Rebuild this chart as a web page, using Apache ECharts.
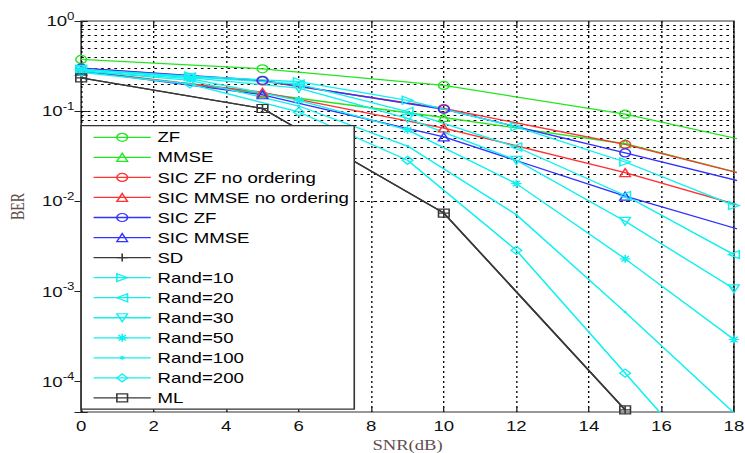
<!DOCTYPE html>
<html><head><meta charset="utf-8">
<script src="https://cdn.jsdelivr.net/npm/echarts@6/dist/echarts.min.js"></script>
<style>
html,body{margin:0;padding:0;background:#fff;overflow:hidden;}
#wrap{width:745px;height:453px;overflow:hidden;}
#chart{width:560px;height:453px;transform:scaleX(1.330357);transform-origin:0 0;}
</style></head><body><div id="wrap"><div id="chart"></div></div>
<script>
// ---- data ----
const snrStep5 = [0, 5, 10, 15, 20];
const snrStep3 = [0, 3, 6, 9, 12, 15, 18];
const snrML = [0, 5, 10, 15];

const berZF = [0.375, 0.295, 0.193, 0.0926, 0.0336];
const berMMSE = [0.28, 0.157, 0.085, 0.0435, 0.0133];
const berSicZfNoOrd = [0.30, 0.216, 0.107, 0.0427, 0.0133];
const berSicMmseNoOrd = [0.28, 0.162, 0.065, 0.0208, 0.0055];
const berSicZf = [0.30, 0.22, 0.105, 0.0344, 0.011];
const berSicMmse = [0.28, 0.152, 0.0518, 0.0114, 0.00295];
const berSD = [0.234, 0.107, 0.0074, 0.0000485];
const berRand10 = [0.29, 0.245, 0.212, 0.132, 0.067, 0.0273, 0.009];
const berRand20 = [0.29, 0.24, 0.2, 0.099, 0.040, 0.0116, 0.00256];
const berRand30 = [0.29, 0.235, 0.18, 0.083, 0.0285, 0.006, 0.00107];
const berRand50 = [0.28, 0.23, 0.132, 0.062, 0.0157, 0.0023, 0.000293];
const berRand100 = [0.28, 0.22, 0.114, 0.041, 0.0071, 0.00059, 0.000045];
const berRand200 = [0.27, 0.2, 0.098, 0.0285, 0.00286, 0.000124, 0.0000054];
const berML = [0.234, 0.107, 0.0074, 0.0000485];

const seriesNames = ['ZF', 'MMSE', 'SIC ZF no ordering', 'SIC MMSE no ordering', 'SIC ZF', 'SIC MMSE', 'SD',
  'Rand=10', 'Rand=20', 'Rand=30', 'Rand=50', 'Rand=100', 'Rand=200', 'ML'];
const xTicks = [0, 2, 4, 6, 8, 10, 12, 14, 16, 18];
const yDecades = [-4, -3, -2, -1, 0];

// ---- styles ----
const SANS = 'Liberation Sans, Arial, sans-serif';
const SERIF = 'Liberation Serif, Times New Roman, serif';
const yMin = 4.6e-5, yMax = 1;
const GREEN = '#22e622', RED = '#ff3333', BLUE = '#3333ff', CYAN = '#11f0f0', BLACK = '#383838';
const SYM = {
  circle: 'path://M1,0A1,1,0,1,1,-1,0A1,1,0,1,1,1,0Z',
  up: 'path://M0,-1L0.866,0.5L-0.866,0.5Z',
  down: 'path://M0,1L0.866,-0.5L-0.866,-0.5Z',
  right: 'path://M1,0L-0.5,0.866L-0.5,-0.866Z',
  left: 'path://M-1,0L0.5,-0.866L0.5,0.866Z',
  plus: 'path://M-1,0L1,0M0,-1L0,1',
  star: 'path://M-1,0L1,0M0,-1L0,1M-0.7,-0.7L0.7,0.7M-0.7,0.7L0.7,-0.7',
  diamond: 'path://M0,-1L1,0L0,1L-1,0Z',
  square: 'path://M-1,-1L1,-1L1,1L-1,1Z',
  dot: 'path://M-1,-1L-1,-1M1,1L1,1M0.3,0A0.3,0.3,0,1,1,-0.3,0A0.3,0.3,0,1,1,0.3,0Z'
};

function zip(xs, ys) { return xs.map((x, i) => [x, ys[i]]); }

const defs = [
  [seriesNames[0], snrStep5, berZF, GREEN, SYM.circle, 8],
  [seriesNames[1], snrStep5, berMMSE, GREEN, SYM.up, 8],
  [seriesNames[2], snrStep5, berSicZfNoOrd, RED, SYM.circle, 8],
  [seriesNames[3], snrStep5, berSicMmseNoOrd, RED, SYM.up, 8],
  [seriesNames[4], snrStep5, berSicZf, BLUE, SYM.circle, 8],
  [seriesNames[5], snrStep5, berSicMmse, BLUE, SYM.up, 8],
  [seriesNames[6], snrML, berSD, BLACK, SYM.plus, 8],
  [seriesNames[7], snrStep3, berRand10, CYAN, SYM.right, 8],
  [seriesNames[8], snrStep3, berRand20, CYAN, SYM.left, 8],
  [seriesNames[9], snrStep3, berRand30, CYAN, SYM.down, 8],
  [seriesNames[10], snrStep3, berRand50, CYAN, SYM.star, 8],
  [seriesNames[11], snrStep3, berRand100, CYAN, SYM.dot, 8],
  [seriesNames[12], snrStep3, berRand200, CYAN, SYM.diamond, 8],
  [seriesNames[13], snrML, berML, BLACK, SYM.square, 8]
];

const gridLineValues = [];
for (let e = -5; e <= 0; e++) {
  for (let m = 1; m <= 9; m++) {
    const v = m * Math.pow(10, e);
    if (v >= yMin * 1.01 && v <= yMax * 0.999) gridLineValues.push(v);
  }
}

const series = [{
  name: '__grid', type: 'line', data: [], z: 1, silent: true, animation: false,
  markLine: {
    silent: true, symbol: ['none', 'none'], label: { show: false }, animation: false, z: 1,
    lineStyle: { color: '#000', type: [2, 3], width: 1 },
    emphasis: { disabled: true },
    data: gridLineValues.map(v => ({ yAxis: v }))
  }
}];

defs.forEach(d => {
  const isDot = d[4] === SYM.dot;
  series.push({
    name: d[0], type: 'line', data: zip(d[1], d[2]),
    symbol: d[4], symbolSize: d[5], showSymbol: true, showAllSymbol: true,
    clip: true, silent: true, animation: false, z: 2,
    lineStyle: { color: d[3], width: 1.3 },
    itemStyle: { color: isDot ? d[3] : 'none', borderColor: d[3], borderWidth: isDot ? 0 : 1.2 },
    emphasis: { disabled: true }
  });
});

const chart = echarts.init(document.getElementById('chart'), null, { renderer: 'svg' });
chart.setOption({
  animation: false,
  backgroundColor: '#fff',
  grid: {
    left: 61, right: 8.3, top: 21, bottom: 41,
    show: true, borderColor: '#333', borderWidth: 1.2, backgroundColor: '#fff',
    containLabel: false, outerBoundsMode: 'none'
  },
  xAxis: [{
    type: 'value', min: xTicks[0], max: xTicks[xTicks.length - 1], interval: 2,
    axisLine: { show: false },
    axisTick: { show: true, inside: true, length: 5, lineStyle: { color: '#222' } },
    axisLabel: { fontFamily: SANS, fontSize: 14, color: '#111', margin: 7 },
    splitLine: { show: true, lineStyle: { color: '#000', type: [2, 3], width: 1 } },
    name: 'SNR(dB)', nameLocation: 'middle', nameGap: 19,
    nameTextStyle: { fontFamily: SERIF, fontSize: 14, color: '#5e4e4e' }
  }, {
    type: 'value', position: 'top', min: xTicks[0], max: xTicks[xTicks.length - 1], interval: 2,
    axisLine: { show: false }, axisLabel: { show: false }, splitLine: { show: false },
    axisTick: { show: true, inside: true, length: 5, lineStyle: { color: '#222' } }
  }],
  yAxis: [{
    type: 'log', logBase: 10, min: yMin, max: yMax,
    axisLine: { show: false },
    axisTick: { show: true, inside: true, length: 5, lineStyle: { color: '#222' } },
    splitLine: { show: false },
    axisLabel: {
      margin: 5,
      formatter: function (v) {
        const e = Math.log10(v);
        const r = Math.round(e);
        if (Math.abs(e - r) > 1e-6 || yDecades.indexOf(r) < 0) return '';
        return '{a|10}{b|' + r + '}';
      },
      rich: {
        a: { fontFamily: SANS, fontSize: 14, color: '#111' },
        b: { fontFamily: SANS, fontSize: 10, color: '#111', padding: [0, 0, 10, 0] }
      }
    },
    name: 'BER', nameLocation: 'middle', nameGap: 40, nameRotate: 90,
    nameTextStyle: { fontFamily: SERIF, fontSize: 14, color: '#5e4e4e', padding: [0, 0, 0, 20] }
  }, {
    type: 'log', logBase: 10, min: yMin, max: yMax, position: 'right',
    axisLine: { show: false }, axisLabel: { show: false }, splitLine: { show: false },
    axisTick: { show: true, inside: true, length: 5, lineStyle: { color: '#222' } }
  }],
  legend: {
    orient: 'vertical', left: 61, top: 125.7, z: 10,
    padding: [4.6, 4, 4.2, 8.7],
    itemWidth: 43, itemHeight: 10, itemGap: 6.05,
    backgroundColor: '#fff', borderColor: '#333', borderWidth: 1.2,
    textStyle: { fontFamily: SANS, fontSize: 14, color: '#000', lineHeight: 14 },
    lineStyle: { width: 1.3 },
    itemStyle: { borderWidth: 1.2 },
    selectedMode: false,
    data: seriesNames
  },
  series: series
});
</script></body></html>
